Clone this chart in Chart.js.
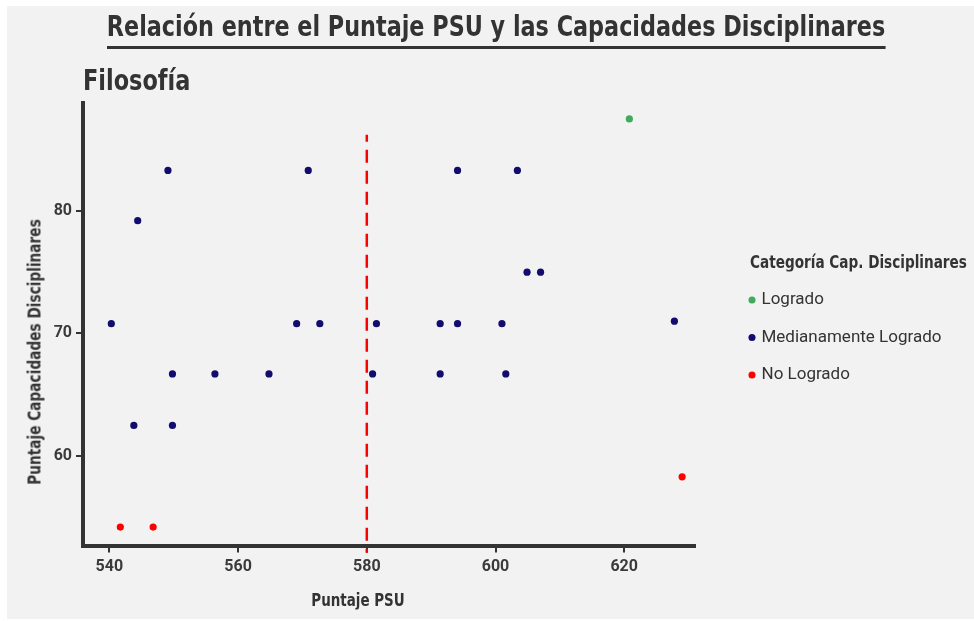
<!DOCTYPE html>
<html lang="es">
<head>
<meta charset="utf-8">
<title>Puntaje PSU vs Capacidades Disciplinares</title>
<script src="https://cdn.jsdelivr.net/npm/chart.js@4.4.1/dist/chart.umd.min.js"></script>
<style>
  html, body { margin: 0; padding: 0; background: #ffffff; }
  #wrap { position: relative; width: 974px; height: 621px; overflow: hidden; }
  #panel { position: absolute; left: 7px; top: 6px; right: 0; bottom: 2px; background: #f2f2f2; }
  canvas { position: absolute; left: 0; top: 0; }
  .txt { position: absolute; color: #333333; white-space: nowrap; line-height: 1;
         font-family: 'Liberation Sans Narrow', 'DejaVu Sans Condensed', sans-serif; font-weight: bold; }
  #title { left: 496px; top: 12.7px; transform: translateX(-50%) scaleX(0.886); font-size: 28px; padding-bottom: 5.3px; border-bottom: 3px solid #333333; }
  #subtitle { left: 83px; top: 66.5px; transform-origin: left center; transform: scaleX(0.89); font-size: 28px; }
  #ytitle { left: 34.5px; top: 352px; transform: translate(-50%, -50%) rotate(-90deg) scaleX(0.895); font-size: 17px; }
  #xtitle { left: 357.5px; top: 600px; transform: translate(-50%, -50%) scaleX(0.88); font-size: 17px; }
  #legtitle { left: 750px; top: 262px; transform-origin: left center; transform: translateY(-50%) scaleX(0.89); font-size: 17px; }
</style>
</head>
<body>
<div id="wrap">
  <div id="panel"></div>
  <canvas id="chart" width="974" height="621"></canvas>
  <div class="txt" id="title">Relación entre el Puntaje PSU y las Capacidades Disciplinares</div>
  <div class="txt" id="subtitle">Filosofía</div>
  <div class="txt" id="ytitle">Puntaje Capacidades Disciplinares</div>
  <div class="txt" id="xtitle">Puntaje PSU</div>
  <div class="txt" id="legtitle">Categoría Cap. Disciplinares</div>
</div>
<script>
// Datos
const categories = ['Logrado', 'Medianamente Logrado', 'No Logrado'];
const categoryColors = ['#41ab5d', '#120c6e', '#ff0000'];

const logradoPsu = [620.8];
const logradoCap = [87.5];

const medianoPsu = [549.1, 544.4, 540.3, 570.9, 569.1, 572.7, 581.5, 549.8, 556.4, 564.8,
                    543.8, 549.8, 580.9, 594.1, 603.4, 604.9, 607.0, 591.4, 594.1, 601.0,
                    627.8, 591.4, 601.6];
const medianoCap = [83.3, 79.2, 70.8, 83.3, 70.8, 70.8, 70.8, 66.7, 66.7, 66.7,
                    62.5, 62.5, 66.7, 83.3, 83.3, 75.0, 75.0, 70.8, 70.8, 70.8,
                    71.0, 66.7, 66.7];

const noLogradoPsu = [541.7, 546.8, 629.0];
const noLogradoCap = [54.2, 54.2, 58.3];

// Linea de corte PSU
const cutX = 580;
const cutTop = 86.2;
const cutBottom = 52.1;

// Ejes
const xTicks = [540, 560, 580, 600, 620];
const yTicks = [60, 70, 80];
const xMin = 535.9, xMax = 631.0;
const yMin = 52.7, yMax = 88.8;

function toPoints(xs, ys) {
    return xs.map((x, i) => ({ x: x, y: ys[i] }));
}

const seriesX = [logradoPsu, medianoPsu, noLogradoPsu];
const seriesY = [logradoCap, medianoCap, noLogradoCap];

const datasets = categories.map((name, i) => ({
    type: 'scatter',
    label: name,
    data: toPoints(seriesX[i], seriesY[i]),
    backgroundColor: categoryColors[i],
    borderColor: categoryColors[i],
    borderWidth: 0,
    pointRadius: 3.6,
    pointHoverRadius: 3.6
}));

datasets.push({
    type: 'line',
    label: 'corte',
    data: [{ x: cutX, y: cutTop }, { x: cutX, y: cutBottom }],
    borderColor: '#ff0000',
    borderWidth: 2.5,
    borderDash: [13, 8],
    borderDashOffset: 6,
    pointRadius: 0,
    fill: false,
    clip: false
});

// Ajuste de la leyenda: ancho fijo y posicion junto al titulo
const legendPlacement = {
    id: 'legendPlacement',
    beforeLayout(chart) {
        const lg = chart.legend;
        if (lg && !lg._fitPatched) {
            const fit = lg.fit;
            lg.fit = function () {
                fit.call(this);
                this.width = 974 - 695;
            };
            lg._fitPatched = true;
        }
    },
    afterLayout(chart) {
        const lg = chart.legend;
        const w = lg.width, h = lg.height;
        lg.left = 751 - 20.5;
        lg.right = lg.left + w;
        lg.top = 300 - 8.5 - 20.5;
        lg.bottom = lg.top + h;
    }
};

const axisCommon = {
    border: { display: true, color: '#333333', width: 4 },
    grid: { drawOnChartArea: false, drawTicks: true, tickLength: 7, color: '#333333', lineWidth: 2 },
    title: { display: false }
};

new Chart(document.getElementById('chart').getContext('2d'), {
    type: 'scatter',
    data: { datasets: datasets },
    options: {
        responsive: false,
        animation: false,
        layout: { padding: { top: 103, left: 0, right: 0, bottom: 0 } },
        scales: {
            x: Object.assign({}, axisCommon, {
                type: 'linear',
                min: xMin,
                max: xMax,
                afterBuildTicks: s => { s.ticks = xTicks.map(v => ({ value: v })); },
                afterFit: s => { s.height = 75.5; },
                ticks: { color: '#3a3a3a', padding: 5, font: { family: 'Roboto', size: 16, weight: 'bold' } }
            }),
            y: Object.assign({}, axisCommon, {
                type: 'linear',
                min: yMin,
                max: yMax,
                afterBuildTicks: s => { s.ticks = yTicks.map(v => ({ value: v })); },
                afterFit: s => { s.width = 83; },
                ticks: { color: '#3a3a3a', padding: 4, font: { family: 'Roboto', size: 16, weight: 'bold' } }
            })
        },
        plugins: {
            title: { display: false },
            tooltip: { enabled: false },
            legend: {
                display: true,
                position: 'right',
                align: 'start',
                labels: {
                    usePointStyle: true,
                    pointStyle: 'circle',
                    boxWidth: 2,
                    boxHeight: 5,
                    padding: 20.5,
                    color: '#333333',
                    font: { family: 'Roboto', size: 17 },
                    filter: item => item.datasetIndex < categories.length
                }
            }
        }
    },
    plugins: [legendPlacement]
});
</script>
</body>
</html>
